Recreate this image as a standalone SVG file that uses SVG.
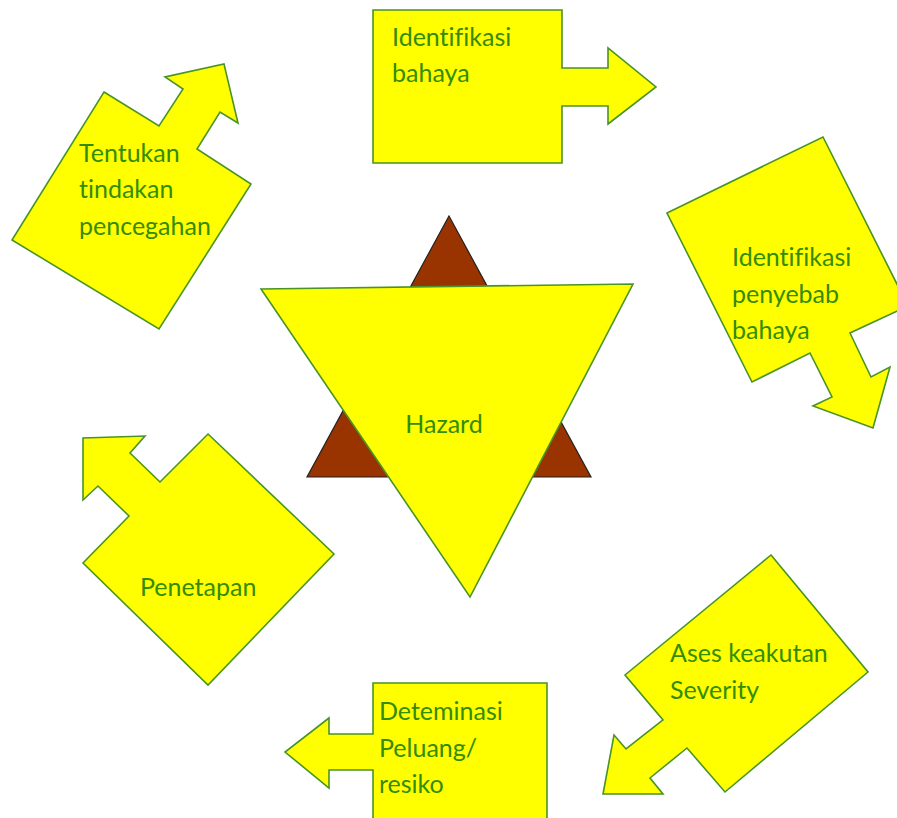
<svg xmlns="http://www.w3.org/2000/svg" width="897" height="818" viewBox="0 0 897 818">
<style>
.shape{fill:#ffff00;stroke:#4a9325;stroke-width:1.6;stroke-linejoin:miter}
.brown{fill:#993300;stroke:#222;stroke-width:1.2}
.lbl{font-family:Lato,"Liberation Sans",sans-serif;font-size:25px;fill:#348c00;font-variant-ligatures:none;font-feature-settings:"liga" 0}
</style>
<rect width="897" height="818" fill="#ffffff"/>
<g id="connectors"/>
<g id="hazard">
<polygon class="brown" points="449,216 591,477 307,477"/>
<polygon class="shape" points="261,289 633,284 470,597"/>
<text class="lbl" x="444" y="433" text-anchor="middle">Hazard</text>
</g>
<g id="identifikasi-bahaya">
<polygon class="shape" points="373,10 562,10 562,68 608,68 608,48 656,87 608,124 608,106 562,106 562,163 373,163"/>
<text class="lbl" x="392" y="46">Identifikasi</text>
<text class="lbl" x="392" y="82">bahaya</text>
</g>
<g id="identifikasi-penyebab">
<polygon class="shape" points="667,213 823,137 908,306 850,333 871,377 890,367 873,428 813,406 832,397 810,353 752,382"/>
<text class="lbl" x="732" y="266">Identifikasi</text>
<text class="lbl" x="732" y="303">penyebab</text>
<text class="lbl" x="732" y="339">bahaya</text>
</g>
<g id="ases-keakutan">
<polygon class="shape" points="771,555 868,672 725,792 687,748 650,778 663,794 603,794 614,735 626,749 663,720 625,675"/>
<text class="lbl" x="670" y="662">Ases keakutan</text>
<text class="lbl" x="670" y="699">Severity</text>
</g>
<g id="deteminasi">
<polygon class="shape" points="373,683 547,683 547,830 373,830 373,770 329,770 329,788 285,752 329,718 329,734 373,734"/>
<text class="lbl" x="379" y="720">Deteminasi</text>
<text class="lbl" x="379" y="757">Peluang/</text>
<text class="lbl" x="379" y="793">resiko</text>
</g>
<g id="penetapan">
<polygon class="shape" points="208,434 334,554 208,685 83,563 129,516 98,486 83,500 83,438 145,436 130,453 160,482"/>
<text class="lbl" x="140" y="596">Penetapan</text>
</g>
<g id="tentukan">
<polygon class="shape" points="104,92 159,126 183,89 165,77 224,64 238,123 220,112 197,149 251,184 159,329 12,240"/>
<text class="lbl" x="79" y="162">Tentukan</text>
<text class="lbl" x="79" y="198">tindakan</text>
<text class="lbl" x="79" y="235">pencegahan</text>
</g>
</svg>
